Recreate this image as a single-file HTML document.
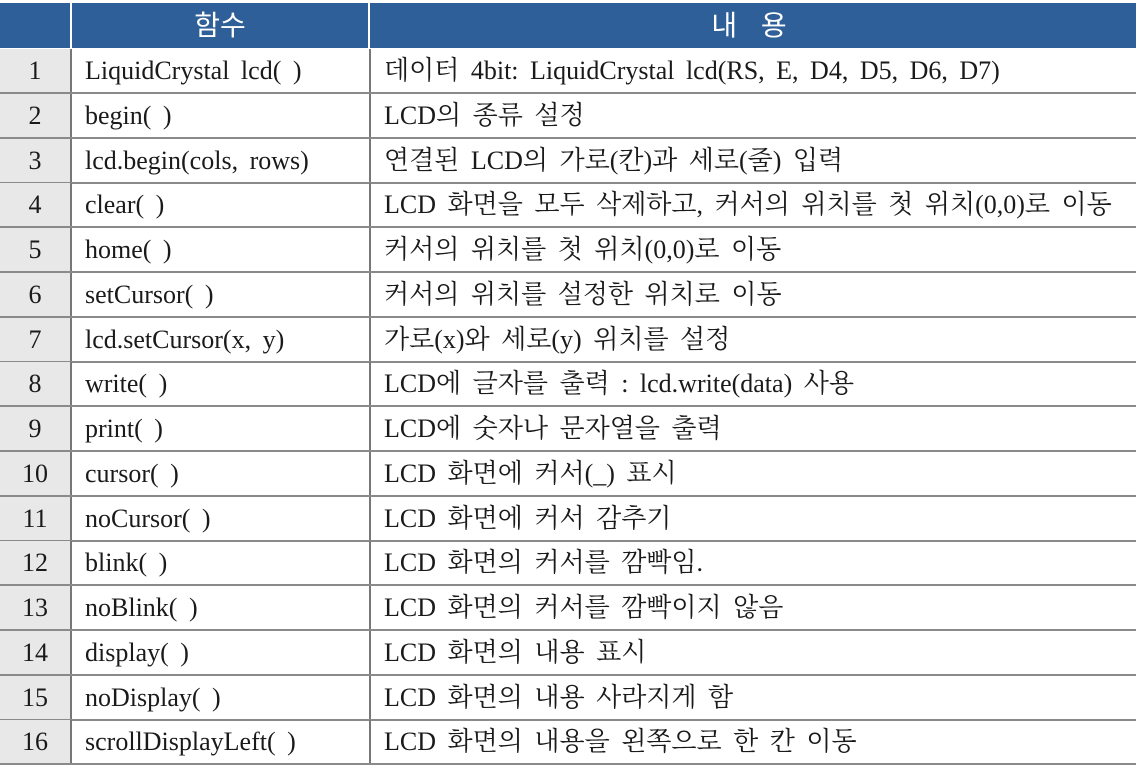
<!DOCTYPE html>
<html><head><meta charset="utf-8"><style>
body{margin:0;width:1138px;height:768px;background:#fff;overflow:hidden;position:relative;font-family:"Liberation Serif","Noto Serif CJK SC",serif;}
.h{position:absolute;top:3px;height:45px;background:#2f5f98;color:#fff;font-family:"Liberation Sans","Noto Sans CJK KR",sans-serif;font-size:28px;line-height:45px;text-align:center;}
.r{position:absolute;left:0;width:1136px;height:43px;border-bottom:2px solid #8a8a8a;}
.c{position:absolute;top:0;height:43px;line-height:43px;font-size:26px;color:#1a1a1a;white-space:nowrap;word-spacing:5px;}
.n{left:0;width:70px;background:#e8e8e8;text-align:center;border-right:2px solid #777;}
.f{left:72px;width:284px;padding-left:13px;border-right:2px solid #777;}
.d{left:370px;padding-left:14px;}
</style></head><body>
<div class="h" style="left:0;width:70px"></div>
<div class="h" style="left:72px;width:296px">함수</div>
<div class="h" style="left:370px;width:766px;letter-spacing:8px">내 용</div>
<div id="t"></div>
<script>
const rows=[["LiquidCrystal lcd( )","데이터 4bit: LiquidCrystal lcd(RS, E, D4, D5, D6, D7)"],
["begin( )","LCD의 종류 설정"],["lcd.begin(cols, rows)","연결된 LCD의 가로(칸)과 세로(줄) 입력"],
["clear( )","LCD 화면을 모두 삭제하고, 커서의 위치를 첫 위치(0,0)로 이동"],
["home( )","커서의 위치를 첫 위치(0,0)로 이동"],["setCursor( )","커서의 위치를 설정한 위치로 이동"],
["lcd.setCursor(x, y)","가로(x)와 세로(y) 위치를 설정"],["write( )","LCD에 글자를 출력 : lcd.write(data) 사용"],
["print( )","LCD에 숫자나 문자열을 출력"],["cursor( )","LCD 화면에 커서(_) 표시"],
["noCursor( )","LCD 화면에 커서 감추기"],["blink( )","LCD 화면의 커서를 깜빡임."],
["noBlink( )","LCD 화면의 커서를 깜빡이지 않음"],["display( )","LCD 화면의 내용 표시"],
["noDisplay( )","LCD 화면의 내용 사라지게 함"],["scrollDisplayLeft( )","LCD 화면의 내용을 왼쪽으로 한 칸 이동"]];
const t=document.getElementById('t');
rows.forEach((r,i)=>{
 const row=document.createElement('div');row.className='r';row.style.top=(49+i*44.75)+'px';
 
 
 row.innerHTML='<div class="c n">'+(i+1)+'</div><div class="c f">'+r[0]+'</div><div class="c d">'+r[1]+'</div>';
 t.appendChild(row);
});
</script>
</body></html>
